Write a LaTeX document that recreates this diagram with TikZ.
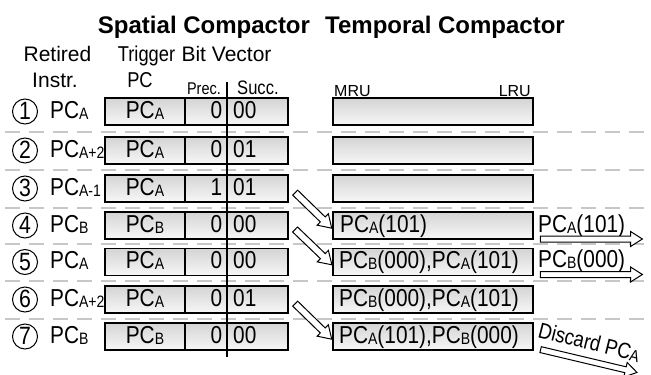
\documentclass[tikz,border=0pt]{standalone}
\usepackage{fontspec}
\setmainfont{Liberation Sans}
\newfontfamily\nar{Liberation Sans}[FakeStretch=0.85]
\usetikzlibrary{shapes.arrows,calc}
\newcommand\sbx[1]{\raisebox{-1pt}{\fontsize{16.5}{16.5}\selectfont #1}}
\newcommand\nt{\nar\fontsize{24.5}{24.5}\selectfont}
\begin{document}
\begin{tikzpicture}[x=1pt,y=-1pt,
  box/.style={draw, line width=1.5pt, top color=black!17, bottom color=black!3, minimum height=27pt, inner sep=0pt, outer sep=0pt},
  txt/.style={inner sep=0pt, font=\nt},
  hd/.style={inner sep=0pt, anchor=base, font=\fontsize{21}{21}\selectfont},
  hdn/.style={inner sep=0pt, anchor=base, font=\nar\fontsize{21.5}{21.5}\selectfont},
  ttl/.style={inner sep=0pt, anchor=base, font=\bfseries\fontsize{24}{24}\selectfont},
  dashline/.style={draw=black!22, line width=2pt, dash pattern=on 15pt off 9pt},
  harrow/.style={single arrow, draw, fill=white, line width=1pt, inner sep=0pt, inner ysep=3pt, minimum width=14pt, single arrow head extend=4.5pt, single arrow tip angle=65, single arrow head indent=0pt}]
\useasboundingbox (0,0) rectangle (651,375);
% dashed separators
\foreach \y in {131.5,170,207.5,244,281,318.5}
  \draw[dashline] (5,\y) -- (651,\y);
% titles and headers
\node[ttl] (t1) at (204,33) {Spatial Compactor};
\node[ttl] (t2) at (445,33) {Temporal Compactor};
\node[hd] (h1) at (57.5,61) {Retired};
\node[hd] (h2) at (55,87) {Instr.};
\node[hdn] (h3) at (146.5,61) {Trigger};
\node[hdn] (h4) at (140,87) {PC};
\node[hd] (h5) at (226.5,61) {Bit Vector};
\node[inner sep=0pt, anchor=base east, font=\nar\fontsize{17}{17}\selectfont] (h6) at (221,94) {Prec.};
\node[inner sep=0pt, anchor=base west, font=\nar\fontsize{19.5}{19.5}\selectfont] (h7) at (237,94) {Succ.};
\node[inner sep=0pt, anchor=base west, font=\fontsize{16}{16}\selectfont] (h8) at (334,96) {MRU};
\node[inner sep=0pt, anchor=base east, font=\fontsize{16}{16}\selectfont] (h9) at (531,96) {LRU};
% rows
\foreach \i/\c/\lab/\tr/\bp/\bs in {1/111.5/A/A/0/00, 2/150.5/{A+2}/A/0/01, 3/188.5/{A-1}/A/1/01, 4/225.5/B/B/0/00, 5/262/A/A/0/00, 6/299.5/{A+2}/A/0/01, 7/336.5/B/B/0/00}{
  \node[box, minimum width=183pt] (L\i) at (196.5,\c) {};
  \draw[line width=1.5pt] ($(L\i.north west)+(80,0)$) -- ($(L\i.south west)+(80,0)$);
  \node[box, minimum width=200pt] (T\i) at (433,\c) {};
  \node[draw, circle, minimum size=25pt, line width=1pt, inner sep=0pt] (n\i) at (25,\c) {};
  \node[inner sep=0pt, anchor=base, font=\nar\fontsize{25}{25}\selectfont] (d\i) at (25,\c+8) {\i};
  \node[txt, anchor=base west] (p\i) at (50,\c+6.5) {PC\sbx{\lab}};
  \node[txt, anchor=base] (g\i) at (145,\c+6.5) {PC\sbx{\tr}};
  \node[txt, anchor=base east] (u\i) at (222.5,\c+6.5) {\bp};
  \node[txt, anchor=base west] (v\i) at (233,\c+6.5) {\bs};
}
% vertical divider of bit vector
\coordinate (vtop) at (227,82);
\coordinate (vbot) at (227,357);
\draw[line width=1.3pt] (vtop) -- (vbot);
% temporal compactor contents
\node[txt, anchor=base west] (c4) at (340,232) {PC\sbx{A}(101)};
\node[txt, anchor=base west] (c5) at (339,268.5) {PC\sbx{B}(000),PC\sbx{A}(101)};
\node[txt, anchor=base west] (c6) at (339,306) {PC\sbx{B}(000),PC\sbx{A}(101)};
\node[txt, anchor=base west] (c7) at (339,343) {PC\sbx{A}(101),PC\sbx{B}(000)};
% diagonal arrows
\foreach \a/\b in {3/4,4/5,6/7}{
  \coordinate (s\a) at ($(L\a.east)+(5,2)$);
  \coordinate (e\b) at ($(T\b.west)+(-3,1)$);
  \path (s\a) -- (e\b) node[midway, sloped, harrow, minimum height=51pt] {};
}
% outputs
\node[txt, anchor=base west] (o4) at (538,232) {PC\sbx{A}(101)};
\coordinate (r4s) at ($(T4.south east)+(5,0)$);
\coordinate (r4e) at ($(r4s)+(102,0)$);
\path (r4s) -- (r4e) node[midway, sloped, harrow, minimum height=102pt, inner ysep=2.5pt, minimum width=12pt] {};
\node[txt, anchor=base west] (o5) at (538,267) {PC\sbx{B}(000)};
\coordinate (r5s) at ($(T5.south east)+(5,-1)$);
\coordinate (r5e) at ($(r5s)+(102,0)$);
\path (r5s) -- (r5e) node[midway, sloped, harrow, minimum height=102pt, inner ysep=2.5pt, minimum width=12pt] {};
\node[inner sep=0pt, anchor=base west, rotate=-14, font=\nar\fontsize{22}{22}\selectfont] (o7) at (537,337) {Discard PC\sbx{A}};
\coordinate (r7s) at ($(T7.south east)+(5,-1)$);
\coordinate (r7e) at ($(r7s)+(97,23)$);
\path (r7s) -- (r7e) node[midway, sloped, harrow, minimum height=99pt, inner ysep=2.5pt, minimum width=12pt] {};
\end{tikzpicture}
\end{document}
